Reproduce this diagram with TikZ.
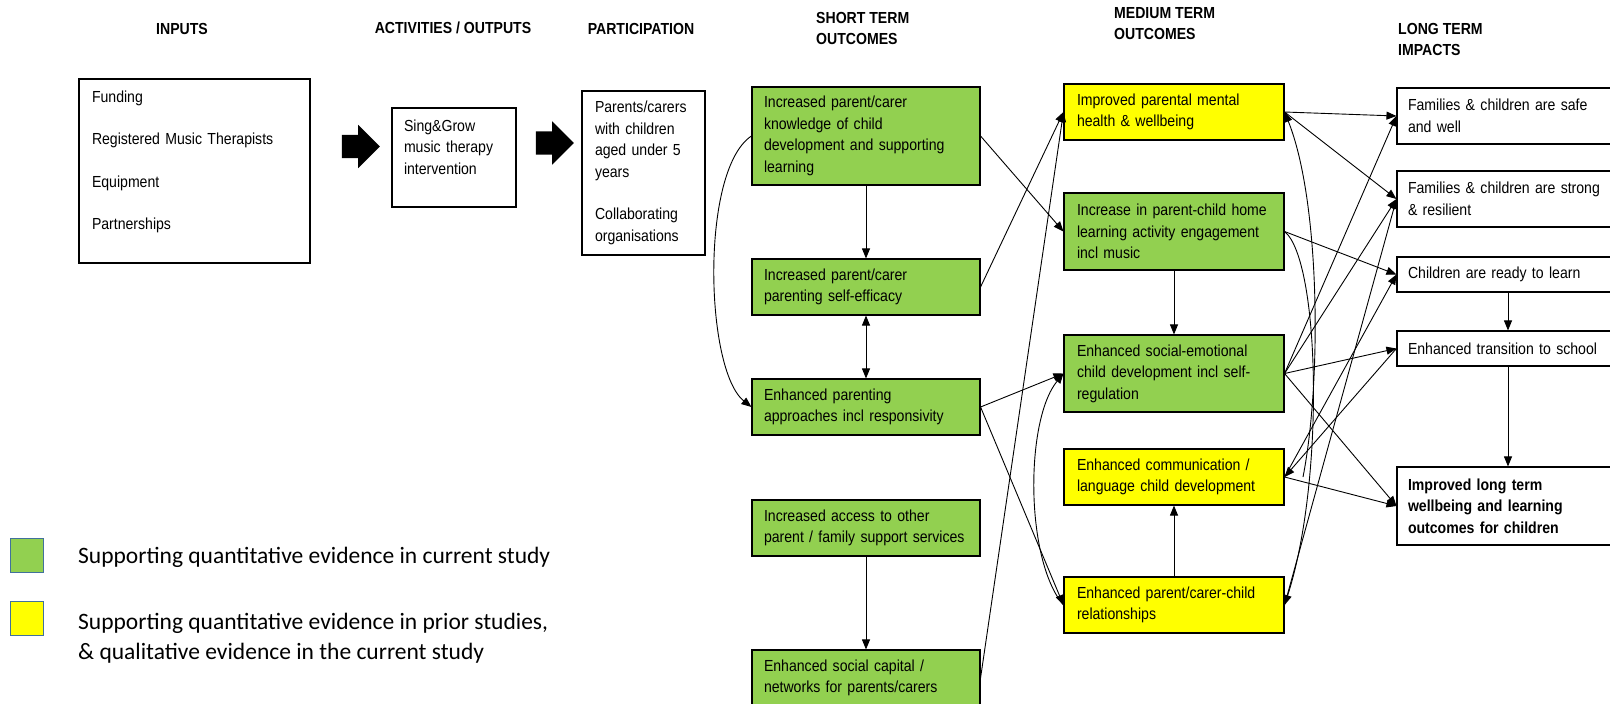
\documentclass[tikz,border=0pt]{standalone}
\usepackage{fontspec}
\setmainfont{Liberation Sans}[FakeStretch=0.88]
\newfontfamily\legendfont{Carlito}
\usetikzlibrary{arrows.meta,shapes.arrows}
\definecolor{stgreen}{HTML}{92D050}
\definecolor{hiyellow}{HTML}{FFFF00}
\definecolor{legedge}{HTML}{41719C}
\tikzset{
  box/.style={draw=black, line width=1.1pt, inner xsep=12pt, inner ysep=0pt, align=left, font=\fontsize{16}{21.5}\selectfont},
  stbox/.style={box, fill=stgreen, text width=204pt, minimum height=56pt},
  mtbox/.style={box, inner xsep=13pt, text width=194pt, minimum height=56pt},
  ltbox/.style={box, inner xsep=11pt, text width=200pt, minimum height=56pt},
  hdr/.style={inner sep=0pt, align=left, font=\bfseries\fontsize{16}{21}\selectfont},
  conn/.style={line width=0.9pt, -{Triangle[length=10pt,width=8pt]}},
  twoway/.style={conn, {Triangle[length=10pt,width=8pt]}-{Triangle[length=10pt,width=8pt]}},
  blockarrow/.style={single arrow, fill=black, inner xsep=0pt, inner ysep=11.5pt, minimum height=38pt, single arrow head extend=10pt},
  legsq/.style={draw=legedge, line width=1pt, minimum width=33pt, minimum height=34pt, inner sep=0pt},
  legtxt/.style={anchor=west, inner sep=0pt, align=left, font=\legendfont\fontsize{23.5}{30}\selectfont},
}

\begin{document}
\begin{tikzpicture}[x=1pt, y=-1pt]
  \path[use as bounding box, fill=white] (0,0) rectangle (1610,704);
  % column headings
  \node[hdr] (hinp) at (182,29) {INPUTS};
  \node[hdr] (hact) at (453,28) {ACTIVITIES / OUTPUTS};
  \node[hdr] (hpart) at (641,29) {PARTICIPATION};
  \node[hdr, anchor=west] (hst) at (816,28.5) {SHORT TERM\\OUTCOMES};
  \node[hdr, anchor=west] (hmt) at (1114,23.5) {MEDIUM TERM\\OUTCOMES};
  \node[hdr, anchor=west] (hlt) at (1398,39.5) {LONG TERM\\IMPACTS};

  % inputs, activities, participation
  \node[box, inner xsep=13pt, text width=205pt, minimum height=184pt] (inp) at (194.5,171)
    {Funding\\[21pt]Registered Music Therapists\\[21pt]Equipment\\[21pt]Partnerships\\\mbox{}};
  \node[box, text width=100pt, minimum height=99pt] (act) at (454,157.5)
    {Sing\&Grow\\music therapy\\intervention\\\mbox{}};
  \node[box, inner xsep=13pt, text width=97pt, minimum height=164pt] (part) at (643.5,173)
    {Parents/carers\\with children\\aged under 5\\years\\[21pt]Collaborating\\organisations};
  \node[blockarrow] (arr1) at (355,146.5) {};
  \node[blockarrow] (arr2) at (549,143) {};

  % short term outcomes
  \node[stbox, minimum height=98pt] (st1) at (866,136)
    {Increased parent/carer\\knowledge of child\\development and supporting\\learning};
  \node[stbox] (st2) at (866,287) {Increased parent/carer\\parenting self-efficacy};
  \node[stbox] (st3) at (866,407) {Enhanced parenting\\approaches incl responsivity};
  \node[stbox] (st4) at (866,528) {Increased access to other\\parent / family support services};
  \node[stbox] (st5) at (866,678) {Enhanced social capital /\\networks for parents/carers};

  % medium term outcomes
  \node[mtbox, fill=hiyellow] (mt1) at (1174,112) {Improved parental mental\\health \& wellbeing};
  \node[mtbox, fill=stgreen, minimum height=77pt] (mt2) at (1174,231.5)
    {Increase in parent-child home\\learning activity engagement\\incl music};
  \node[mtbox, fill=stgreen, minimum height=77pt] (mt3) at (1174,373.5)
    {Enhanced social-emotional\\child development incl self-\\regulation};
  \node[mtbox, fill=hiyellow] (mt4) at (1174,477) {Enhanced communication /\\language child development};
  \node[mtbox, fill=hiyellow] (mt5) at (1174,605) {Enhanced parent/carer-child\\relationships};

  % long term impacts
  \node[ltbox] (lt1) at (1508,116) {Families \& children are safe\\and well};
  \node[ltbox] (lt2) at (1508,199) {Families \& children are strong\\\& resilient};
  \node[ltbox, minimum height=35pt] (lt3) at (1508,274.5) {Children are ready to learn};
  \node[ltbox, minimum height=35pt] (lt4) at (1508,348.5) {Enhanced transition to school};
  \node[ltbox, minimum height=78pt, font=\bfseries\fontsize{16}{21.5}\selectfont] (lt5) at (1508,506)
    {Improved long term\\wellbeing and learning\\outcomes for children};

  % links inside the columns
  \draw[conn] (st1) -- (st2);
  \draw[twoway] (st2) -- (st3);
  \draw[conn] (st4) -- (st5);
  \draw[conn] (st1.west) .. controls (700,170) and (705,370) .. (st3.west);
  \draw[conn] (mt2) -- (mt3);
  \draw[conn] (mt5) -- (mt4);
  \draw[conn] (mt5.west) .. controls (1025,560) and (1025,420) .. (mt3.west);
  \draw[conn] (mt2.east) .. controls (1320,260) and (1325,480) .. (mt5.east);
  \coordinate (c4) at (1303,477);
  \draw[conn] (c4) .. controls (1322,380) and (1320,200) .. (mt1.east);
  \draw[conn] (lt3) -- (lt4);
  \draw[conn] (lt4) -- (lt5);

  % short term to medium term
  \draw[conn] (st1.east) -- (mt2.west);
  \draw[conn] (st2.east) -- (mt1.west);
  \draw[conn] (st5.east) -- (mt1.west);
  \draw[conn] (st3.east) -- (mt3.west);
  \draw[conn] (st3.east) -- (mt5.west);

  % medium term to long term
  \draw[conn] (mt1.east) -- (lt1.west);
  \draw[conn] (mt1.east) -- (lt2.west);
  \draw[conn] (mt2.east) -- (lt3.west);
  \foreach \t in {lt1,lt2,lt4,lt5}
    \draw[conn] (mt3.east) -- (\t.west);
  \draw[conn] (mt4.east) -- (lt3.west);
  \draw[conn] (mt4.east) -- (lt5.west);
  \draw[conn] (lt4.west) -- (mt4.east);
  \draw[conn] (mt5.east) -- (lt2.west);

  % legend
  \node[legsq, fill=stgreen] (lgreen) at (27,555.5) {};
  \node[legsq, fill=hiyellow] (lyellow) at (27,618.5) {};
  \node[legtxt] (tgreen) at (78,557) {Supporting quantitative evidence in current study};
  \node[legtxt] (tyellow) at (78,638) {Supporting quantitative evidence in prior studies,\\\& qualitative evidence in the current study};
\end{tikzpicture}
\end{document}
